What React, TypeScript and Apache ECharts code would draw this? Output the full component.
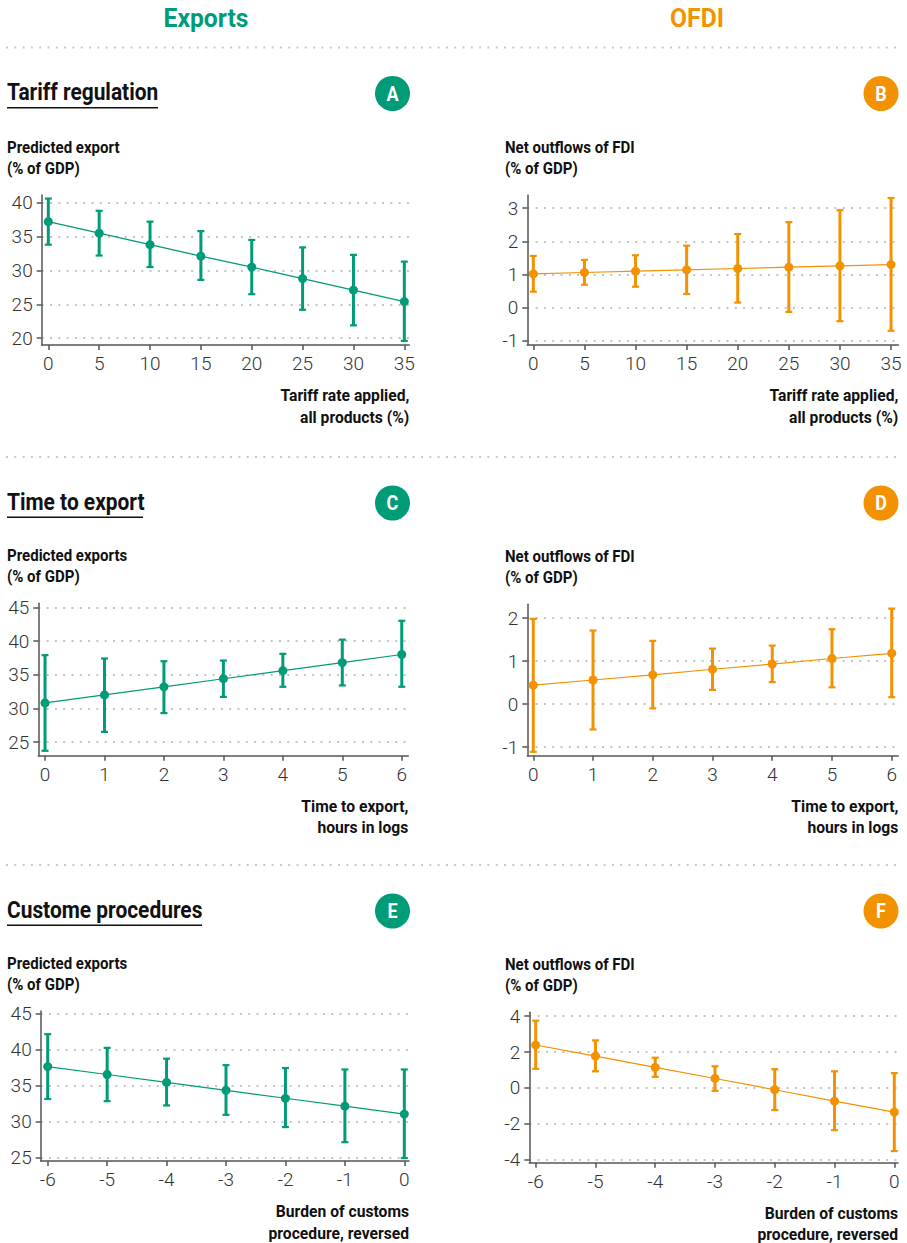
import React, { useEffect, useRef } from "react";
import * as echarts from "echarts";

// ---------- data ----------
const tariffX = [0, 5, 10, 15, 20, 25, 30, 35];
const tariffExp = [37.2, 35.5, 33.8, 32.1, 30.5, 28.8, 27.1, 25.4];
const tariffExpLow = [33.8, 32.2, 30.5, 28.6, 26.5, 24.2, 21.9, 19.6];
const tariffExpHigh = [40.6, 38.8, 37.2, 35.8, 34.5, 33.4, 32.3, 31.3];
const tariffFdi = [1.02, 1.06, 1.1, 1.14, 1.18, 1.22, 1.26, 1.3];
const tariffFdiLow = [0.48, 0.69, 0.63, 0.41, 0.15, -0.13, -0.41, -0.7];
const tariffFdiHigh = [1.56, 1.44, 1.58, 1.87, 2.22, 2.58, 2.94, 3.31];

const timeX = [0, 1, 2, 3, 4, 5, 6];
const timeExp = [30.8, 32.0, 33.2, 34.4, 35.6, 36.8, 38.0];
const timeExpLow = [23.7, 26.5, 29.3, 31.7, 33.2, 33.4, 33.2];
const timeExpHigh = [37.9, 37.4, 37.0, 37.1, 38.1, 40.2, 43.0];
const timeFdi = [0.44, 0.56, 0.68, 0.81, 0.93, 1.06, 1.18];
const timeFdiLow = [-1.11, -0.59, -0.1, 0.33, 0.51, 0.39, 0.16];
const timeFdiHigh = [1.98, 1.71, 1.47, 1.29, 1.36, 1.74, 2.22];

const customsX = [-6, -5, -4, -3, -2, -1, 0];
const customsExp = [37.6, 36.5, 35.4, 34.3, 33.2, 32.1, 31.0];
const customsExpLow = [33.1, 32.8, 32.2, 30.9, 29.2, 27.1, 24.9];
const customsExpHigh = [42.1, 40.2, 38.7, 37.8, 37.4, 37.2, 37.2];
const customsFdi = [2.39, 1.77, 1.14, 0.52, -0.11, -0.75, -1.36];
const customsFdiLow = [1.06, 0.92, 0.61, -0.17, -1.25, -2.37, -3.54];
const customsFdiHigh = [3.75, 2.65, 1.68, 1.2, 1.04, 0.92, 0.82];

// tick labels
const tariffTicks = [0, 5, 10, 15, 20, 25, 30, 35];
const timeTicks = [0, 1, 2, 3, 4, 5, 6];
const customsTicks = [-6, -5, -4, -3, -2, -1, 0];
const expTicksA = [20, 25, 30, 35, 40];
const fdiTicksB = [-1, 0, 1, 2, 3];
const expTicksC = [25, 30, 35, 40, 45];
const fdiTicksD = [-1, 0, 1, 2];
const expTicksE = [25, 30, 35, 40, 45];
const fdiTicksF = [-4, -2, 0, 2, 4];

const columnTitles = ["Exports", "OFDI"];
const sectionTitles = ["Tariff regulation", "Time to export", "Custome procedures"];
const badgeLetters = [["A", "B"], ["C", "D"], ["E", "F"]];
const yTitleExp = [["Predicted export", "(% of GDP)"], ["Predicted exports", "(% of GDP)"], ["Predicted exports", "(% of GDP)"]];
const yTitleFdi = ["Net outflows of FDI", "(% of GDP)"];
const xTitles = [
  ["Tariff rate applied,", "all products (%)"],
  ["Time to export,", "hours in logs"],
  ["Burden of customs", "procedure, reversed"],
];

// ---------- style ----------
const GREEN = "#009B77";
const ORANGE = "#F39200";
const FONT = "Roboto, 'Liberation Sans', sans-serif";

const panels = [
  { x: tariffX, y: tariffExp, lo: tariffExpLow, hi: tariffExpHigh, xt: tariffTicks, yt: expTicksA, color: GREEN,
    grid: { left: 41.7, top: 195, width: 367.6, height: 150 }, xr: [-0.65, 35.49], yr: [19.0, 41.13] },
  { x: tariffX, y: tariffFdi, lo: tariffFdiLow, hi: tariffFdiHigh, xt: tariffTicks, yt: fdiTicksB, color: ORANGE,
    grid: { left: 527.3, top: 195, width: 371, height: 150 }, xr: [-0.59, 35.71], yr: [-1.13, 3.4] },
  { x: timeX, y: timeExp, lo: timeExpLow, hi: timeExpHigh, xt: timeTicks, yt: expTicksC, color: GREEN,
    grid: { left: 38.3, top: 603.3, width: 370, height: 152.4 }, xr: [-0.113, 6.11], yr: [22.97, 45.6] },
  { x: timeX, y: timeFdi, lo: timeFdiLow, hi: timeFdiHigh, xt: timeTicks, yt: fdiTicksD, color: ORANGE,
    grid: { left: 527.3, top: 604.3, width: 371, height: 151.4 }, xr: [-0.1, 6.11], yr: [-1.2, 2.32] },
  { x: customsX, y: customsExp, lo: customsExpLow, hi: customsExpHigh, xt: customsTicks, yt: expTicksE, color: GREEN,
    grid: { left: 40.7, top: 1011, width: 368.3, height: 150 }, xr: [-6.118, 0.079], yr: [24.49, 45.32] },
  { x: customsX, y: customsFdi, lo: customsFdiLow, hi: customsFdiHigh, xt: customsTicks, yt: fdiTicksF, color: ORANGE,
    grid: { left: 529.3, top: 1012.3, width: 368.7, height: 150.4 }, xr: [-6.107, 0.062], yr: [-4.19, 4.22] },
];

const separators = [47.5, 457, 865];
const underlineEnds = [158, 143, 202];

function boldText(text: string, x: number, y: number, size: number, fill: string, align: string, squeeze: number) {
  return {
    type: "text", x, y, scaleX: squeeze,
    style: { text, fill, font: `bold ${size}px ${FONT}`, textAlign: align, textVerticalAlign: "middle" },
  };
}

function buildOption() {
  const grids: any[] = [];
  const xAxes: any[] = [];
  const yAxes: any[] = [];
  const series: any[] = [];
  const graphic: any[] = [];

  const labelStyle = { color: "#333", fontSize: 19, fontWeight: 300, fontFamily: FONT };

  panels.forEach((p, i) => {
    grids.push({ ...p.grid, containLabel: false });
    xAxes.push({
      type: "value", gridIndex: i, min: p.xr[0], max: p.xr[1],
      axisLine: { show: true, onZero: false, lineStyle: { color: "#555", width: 1.5 } },
      axisTick: { show: true, length: 5, customValues: p.xt, lineStyle: { color: "#555", width: 1.5 } },
      axisLabel: { ...labelStyle, customValues: p.xt, margin: 9, showMinLabel: true, showMaxLabel: true },
      splitLine: { show: false },
    });
    yAxes.push({
      type: "value", gridIndex: i, min: p.yr[0], max: p.yr[1],
      axisLine: { show: true, onZero: false, lineStyle: { color: "#555", width: 1.5 } },
      axisTick: { show: true, length: 5, customValues: p.yt, lineStyle: { color: "#555", width: 1.5 } },
      axisLabel: { ...labelStyle, customValues: p.yt, margin: 9 },
      splitLine: { show: true, lineStyle: { color: "#c4c4c4", width: 2, type: [2, 6.3] } },
    });
    const color = p.color;
    series.push({
      type: "custom", xAxisIndex: i, yAxisIndex: i, silent: true, z: 2,
      data: p.x.map((v, k) => [v, p.lo[k], p.hi[k]]),
      renderItem: (params: any, api: any) => {
        const xv = api.value(0);
        const a = api.coord([xv, api.value(1)]);
        const b = api.coord([xv, api.value(2)]);
        const cap = 3.5;
        return {
          type: "group",
          children: [
            { type: "line", shape: { x1: a[0], y1: a[1], x2: b[0], y2: b[1] }, style: { stroke: color, lineWidth: 3 } },
            { type: "line", shape: { x1: a[0] - cap, y1: a[1], x2: a[0] + cap, y2: a[1] }, style: { stroke: color, lineWidth: 2.2 } },
            { type: "line", shape: { x1: b[0] - cap, y1: b[1], x2: b[0] + cap, y2: b[1] }, style: { stroke: color, lineWidth: 2.2 } },
          ],
        };
      },
    });
    series.push({
      type: "line", xAxisIndex: i, yAxisIndex: i, silent: true, z: 3,
      data: p.x.map((v, k) => [v, p.y[k]]),
      symbol: "circle", symbolSize: 9, showSymbol: true,
      itemStyle: { color },
      lineStyle: { color, width: 1.2 },
    });
  });

  // column titles
  const colCenters = [206, 697];
  columnTitles.forEach((t, j) => {
    graphic.push(boldText(t, colCenters[j], 18, 26, j === 0 ? GREEN : ORANGE, "center", 0.95));
  });

  separators.forEach((s, r) => {
    graphic.push({
      type: "line", shape: { x1: 6, y1: s, x2: 901, y2: s },
      style: { stroke: "#c8c8c8", lineWidth: 2, lineDash: [2, 6.3] },
    });
    graphic.push(boldText(sectionTitles[r], 7, s + 44.5, 23.5, "#111", "left", 0.89));
    graphic.push({
      type: "line", shape: { x1: 7, y1: s + 60.3, x2: underlineEnds[r], y2: s + 60.3 },
      style: { stroke: "#111", lineWidth: 1.5 },
    });
    const badgeX = [392.5, 881];
    [0, 1].forEach((j) => {
      graphic.push({ type: "circle", shape: { cx: badgeX[j], cy: s + 46, r: 17.5 }, style: { fill: j === 0 ? GREEN : ORANGE } });
      graphic.push(boldText(badgeLetters[r][j], badgeX[j], s + 46.5, 20, "#fff", "center", 0.9));
    });
  });

  // axis titles
  panels.forEach((p, i) => {
    const r = Math.floor(i / 2);
    const yt = i % 2 === 0 ? yTitleExp[r] : yTitleFdi;
    const left = i % 2 === 0 ? 7 : 505;
    yt.forEach((line, k) => {
      graphic.push(boldText(line, left, p.grid.top - 47.5 + k * 21, 16, "#111", "left", 0.94));
    });
    const right = p.grid.left + p.grid.width;
    const bottom = p.grid.top + p.grid.height;
    xTitles[r].forEach((line, k) => {
      graphic.push(boldText(line, right, bottom + 50.5 + k * 21.5, 16.5, "#111", "right", 0.95));
    });
  });

  return {
    animation: false,
    backgroundColor: "#ffffff",
    grid: grids,
    xAxis: xAxes,
    yAxis: yAxes,
    series,
    graphic,
  };
}

export default function App() {
  const ref = useRef<HTMLDivElement>(null);
  useEffect(() => {
    if (!ref.current) return;
    const chart = echarts.init(ref.current, undefined, { renderer: "svg" });
    chart.setOption(buildOption() as any);
    return () => chart.dispose();
  }, []);
  return <div ref={ref} style={{ position: "absolute", left: 0, top: 0, width: 907, height: 1243 }} />;
}
